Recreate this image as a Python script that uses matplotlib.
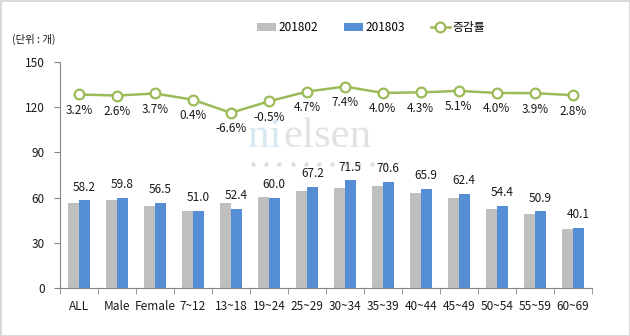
import matplotlib
matplotlib.use("Agg")
from matplotlib import pyplot as plt
from matplotlib.lines import Line2D
import numpy as np

plt.rcParams['font.family'] = ['Noto Sans CJK KR', 'DejaVu Sans']

categories = ['ALL', 'Male', 'Female', '7~12', '13~18', '19~24', '25~29', '30~34',
              '35~39', '40~44', '45~49', '50~54', '55~59', '60~69']
v201802 = [56.4, 58.3, 54.5, 50.8, 56.1, 60.3, 64.2, 66.6, 67.9, 63.2, 59.4, 52.3, 49.0, 39.0]
v201803 = [58.2, 59.8, 56.5, 51.0, 52.4, 60.0, 67.2, 71.5, 70.6, 65.9, 62.4, 54.4, 50.9, 40.1]
growth = [3.2, 2.6, 3.7, 0.4, -6.6, -0.5, 4.7, 7.4, 4.0, 4.3, 5.1, 4.0, 3.9, 2.8]
yticks = [0, 30, 60, 90, 120, 150]

GRAY = '#bfbfbf'
BLUE = '#558ed5'
GREEN = '#9bbb59'
AXC = '#868686'
TXT = '#1a1a1a'

fig = plt.figure(figsize=(6.3, 3.36), dpi=100)
fig.patch.set_facecolor('white')
fig.patch.set_edgecolor('#d9d9d9')
fig.patch.set_linewidth(2)

# watermark (behind everything)
wm1 = fig.text(0.393, 0.5625, 'ni', fontsize=31, family='Liberation Serif', color='#d6e9f1',
               ha='left', va='baseline', zorder=0)
fig.canvas.draw()
bb = wm1.get_window_extent()
fig.text(bb.x1 / fig.bbox.width + 0.003, 0.5625, 'elsen', fontsize=31, family='Liberation Serif',
         color='#e2e2e2', ha='left', va='baseline', zorder=0)
dots_x = np.linspace(253, 385, 11) / 630
fig.add_artist(Line2D(dots_x, np.full(11, 1 - 164 / 336), transform=fig.transFigure,
                      ls='none', marker='o', ms=3.2, mfc='#dedede', mec='none', zorder=0))

ax = fig.add_axes([0.0952, 0.1429, 0.844, 0.6726])
ax.patch.set_alpha(0)
x = np.arange(len(categories))
w = 0.29
b1 = ax.bar(x - w / 2, v201802, w, color=GRAY, label='201802', zorder=2)
b2 = ax.bar(x + w / 2, v201803, w, color=BLUE, label='201803', zorder=2)
for xi, v in zip(x, v201803):
    ax.annotate(f'{v:.1f}', (xi + w / 2, v), xytext=(0, 9.5), textcoords='offset points',
                ha='center', va='center', fontsize=8.5, color=TXT)

ax.set_ylim(0, 150)
ax.set_yticks(yticks)
ax.set_xlim(-0.5, len(categories) - 0.5)
ax.set_xticks(x)
ax.set_xticklabels(categories)
ax.set_xticks(np.arange(len(categories) + 1) - 0.5, minor=True)
ax.tick_params(axis='x', which='major', length=0, pad=9, labelsize=8.5, colors=TXT)
ax.tick_params(axis='x', which='minor', length=4, color=AXC, direction='out')
ax.tick_params(axis='y', length=4, color=AXC, pad=7, labelsize=8.5, labelcolor=TXT)
for s in ['top', 'right']:
    ax.spines[s].set_visible(False)
for s in ['left', 'bottom']:
    ax.spines[s].set_color(AXC)

# growth line on a hidden secondary axis
ax2 = ax.twinx()
ax2.set_ylim(-100, 20.5)
ax2.axis('off')
ln, = ax2.plot(x, growth, color=GREEN, lw=1.8, marker='o', ms=7, mfc='white',
               mec=GREEN, mew=1.6, label='증감률', zorder=3)
for xi, g in zip(x, growth):
    ax2.annotate(f'{g:.1f}%', (xi, g), xytext=(0, -11.5), textcoords='offset points',
                 ha='center', va='center', fontsize=8.5, color=TXT)

fig.text(0.019, 0.884, '(단위 : 개)', fontsize=7.5, ha='left', va='center', color=TXT)
fig.legend(handles=[b1, b2, ln], loc='center left', bbox_to_anchor=(0.399, 0.917), ncol=3,
           frameon=False, fontsize=8.5, handlelength=1.6, handletextpad=0.2,
           columnspacing=2.2, handleheight=0.6, borderpad=0)

fig.savefig('out.png', dpi=100, facecolor=fig.get_facecolor(), edgecolor=fig.get_edgecolor())
